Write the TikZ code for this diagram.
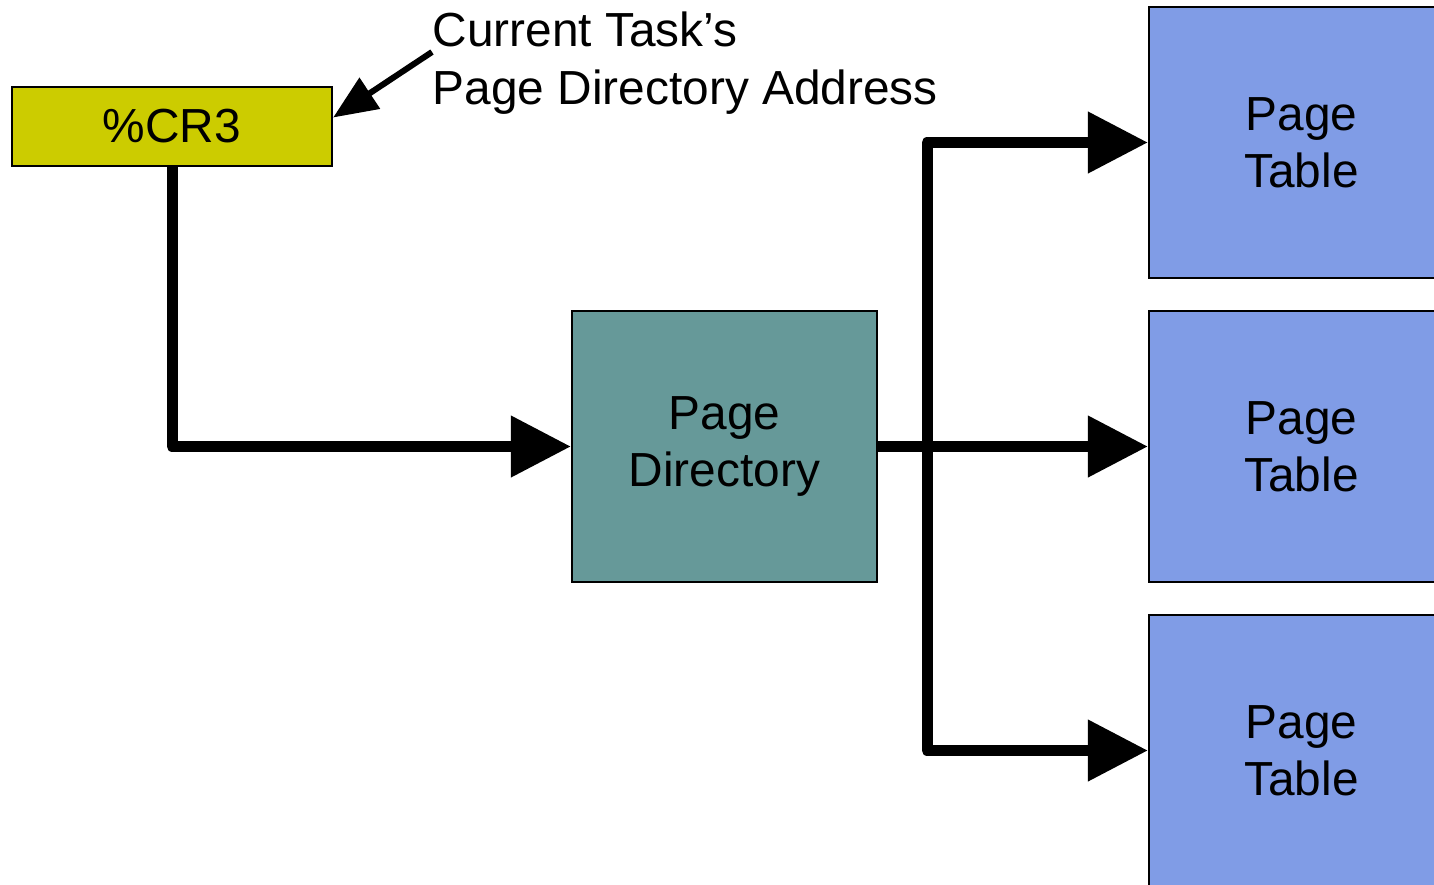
\documentclass[tikz,border=0pt]{standalone}
\usepackage{fontspec}
\setmainfont{Liberation Sans}
\usetikzlibrary{arrows.meta}
\definecolor{crcolor}{HTML}{CCCC00}
\definecolor{dircolor}{HTML}{669999}
\definecolor{tabcolor}{HTML}{809CE6}
\tikzset{
  box/.style={draw=black, line width=0.6pt, inner sep=0pt, align=center,
    font=\fontsize{13.6}{16.3}\selectfont},
  crbox/.style={box, fill=crcolor, minimum width=3.2cm, minimum height=0.79cm},
  dirbox/.style={box, fill=dircolor, minimum width=3.05cm, minimum height=2.71cm},
  tabbox/.style={box, fill=tabcolor, minimum width=3.05cm, minimum height=2.71cm},
  link/.style={line width=0.11cm, line join=round},
  bigtip/.tip={Triangle[length=0.6cm, width=0.59cm]},
}
\begin{document}
\begin{tikzpicture}[x=0.01cm, y=-0.01cm]
	\useasboundingbox (0,0) rectangle (1434,884);
	% boxes
	\node[crbox] (cr3) at (172,126.5) {\%CR3};
	\node[dirbox] (dir) at (724.5,446.5) {Page\\Directory};
	\node[tabbox] (pt1) at (1301.5,142.5) {Page\\Table};
	\node[tabbox] (pt2) at (1301.5,446.5) {Page\\Table};
	\node[tabbox] (pt3) at (1301.5,750.5) {Page\\Table};
	\node[anchor=north west, inner sep=0pt, align=left,
	  font=\fontsize{13.6}{16.5}\selectfont] (note) at (432,11)
	  {Current Task’s\\Page Directory Address};
	\coordinate (split) at (927,446.5);
	% connectors
	\draw[link, -{bigtip}] (cr3.south) |- (dir.west);
	\draw[link, -{bigtip}] (dir.east) -- (pt2.west);
	\draw[link, {bigtip}-{bigtip}] (pt1.west) -| (split) |- (pt3.west);
	\draw[line width=0.06cm, -{Triangle[length=0.44cm, width=0.36cm]}]
	  ([yshift=0.11cm]note.west) -- ([yshift=0.09cm]cr3.east);
\end{tikzpicture}
\end{document}
